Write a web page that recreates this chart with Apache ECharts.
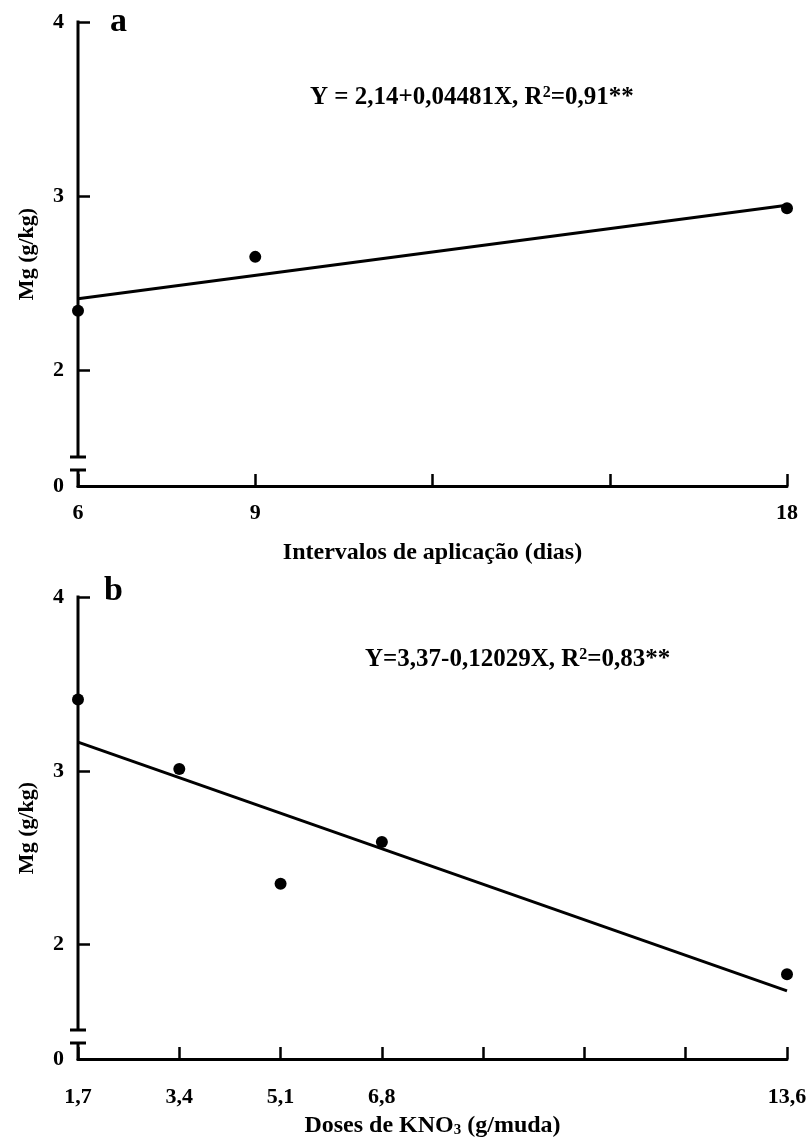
<!DOCTYPE html>
<html>
<head>
<meta charset="utf-8">
<script src="https://cdn.jsdelivr.net/npm/echarts@6/dist/echarts.min.js"></script>
<style>
  html, body { margin: 0; padding: 0; background: #fff; }
  #chart { width: 812px; height: 1143px; }
</style>
</head>
<body>
<div id="chart"></div>
<script>
// Panel a: Mg content vs. application interval
const intervalDays = [6, 9, 18];
const mgByInterval = [2.34, 2.65, 2.93];
const intervalTicks = [6, 9, 12, 15, 18];
const intervalLabels = [6, 9, 18];
const fitA = { a: 2.14, b: 0.04481 };

// Panel b: Mg content vs. KNO3 dose
const kno3Doses = [1.7, 3.4, 5.1, 6.8, 13.6];
const mgByDose = [3.41, 3.01, 2.35, 2.59, 1.83];
const doseTicks = [1.7, 3.4, 5.1, 6.8, 8.5, 10.2, 11.9, 13.6];
const doseLabels = [1.7, 3.4, 5.1, 6.8, 13.6];
const fitB = { a: 3.37, b: -0.12029 };

// Broken y axis: the bottom of each panel stands for 0
const mgTicks = [2, 3, 4];
const mgFloorA = 1.333;
const mgFloorB = 1.342;
const mgMax = 4;

const FONT = '"Liberation Serif", "Times New Roman", serif';
const INK = '#000';

function fitLine(fit, xs) {
  const lo = xs[0], hi = xs[xs.length - 1];
  return [[lo, fit.a + fit.b * lo], [hi, fit.a + fit.b * hi]];
}

function commaNum(v) {
  return Number.isInteger(v) ? String(v) : v.toFixed(1).replace('.', ',');
}

function makeXAxis(gridIndex, min, max, ticks, labels, name, margin, gap) {
  return {
    type: 'value', gridIndex, min, max,
    axisLine: { show: true, lineStyle: { color: INK, width: 3 } },
    axisTick: { show: true, inside: true, length: 12, customValues: ticks, lineStyle: { color: INK, width: 2.5 } },
    axisLabel: {
      customValues: labels, margin,
      formatter: v => commaNum(v),
      color: INK, fontFamily: FONT, fontWeight: 'bold', fontSize: 22
    },
    splitLine: { show: false },
    name, nameLocation: 'middle', nameGap: gap,
    nameTextStyle: {
      color: INK, fontFamily: FONT, fontWeight: 'bold', fontSize: 24,
      rich: {
        sub: { color: INK, fontFamily: FONT, fontWeight: 'bold', fontSize: 15, verticalAlign: 'bottom', padding: [9, 0, 0, 0] }
      }
    }
  };
}

function makeYAxis(gridIndex, floor) {
  return {
    type: 'value', gridIndex, min: floor, max: mgMax,
    axisLine: { show: false },
    axisTick: { show: true, inside: true, length: 12, customValues: mgTicks, lineStyle: { color: INK, width: 2.5 } },
    axisLabel: {
      customValues: [floor].concat(mgTicks), margin: 14,
      formatter: v => (v < mgTicks[0] - 0.1 ? '0' : String(v)),
      color: INK, fontFamily: FONT, fontWeight: 'bold', fontSize: 22
    },
    splitLine: { show: false },
    name: 'Mg (g/kg)', nameLocation: 'middle', nameRotate: 90, nameGap: 40,
    nameTextStyle: { color: INK, fontFamily: FONT, fontWeight: 'bold', fontSize: 22 }
  };
}

const chart = echarts.init(document.getElementById('chart'), null, { renderer: 'canvas' });

chart.setOption({
  backgroundColor: '#fff',
  animation: false,
  grid: [
    { left: 78, top: 22, width: 709, height: 464 },
    { left: 78, top: 597, width: 709, height: 462 }
  ],
  xAxis: [
    makeXAxis(0, intervalTicks[0], intervalTicks[intervalTicks.length - 1], intervalTicks, intervalLabels,
      'Intervalos de aplicação (dias)', 16, 55),
    makeXAxis(1, doseTicks[0], doseTicks[doseTicks.length - 1], doseTicks, doseLabels,
      'Doses de KNO{sub|3} (g/muda)', 27, 55)
  ],
  yAxis: [makeYAxis(0, mgFloorA), makeYAxis(1, mgFloorB)],
  series: [
    {
      type: 'line', xAxisIndex: 0, yAxisIndex: 0,
      data: fitLine(fitA, intervalTicks), showSymbol: false,
      lineStyle: { color: INK, width: 3 }, z: 2
    },
    {
      type: 'scatter', xAxisIndex: 0, yAxisIndex: 0,
      data: intervalDays.map((x, i) => [x, mgByInterval[i]]),
      symbol: 'circle', symbolSize: 12, itemStyle: { color: INK, opacity: 1 }, z: 3
    },
    {
      type: 'line', xAxisIndex: 1, yAxisIndex: 1,
      data: fitLine(fitB, doseTicks), showSymbol: false,
      lineStyle: { color: INK, width: 3 }, z: 2
    },
    {
      type: 'scatter', xAxisIndex: 1, yAxisIndex: 1,
      data: kno3Doses.map((x, i) => [x, mgByDose[i]]),
      symbol: 'circle', symbolSize: 12, itemStyle: { color: INK, opacity: 1 }, z: 3
    }
  ]
});

// Vertical axis line with a break just above the floor, built from the axis scale
function brokenAxis(gridIndex, xMin, floor) {
  const base = chart.convertToPixel({ gridIndex }, [xMin, floor]);
  const top = chart.convertToPixel({ gridIndex }, [xMin, mgMax]);
  const x = base[0];
  const lowStub = base[1] - 16;
  const highStub = base[1] - 29;
  const style = { stroke: INK, lineWidth: 3 };
  const seg = (x1, y1, x2, y2) => ({ type: 'line', shape: { x1, y1, x2, y2 }, style, z: 10 });
  return [
    seg(x, top[1] - 1.5, x, highStub),
    seg(x, lowStub, x, base[1] + 1.5),
    seg(x - 8, highStub, x + 8, highStub),
    seg(x - 8, lowStub, x + 8, lowStub)
  ];
}

const eqRich = {
  t: { fontFamily: FONT, fontWeight: 'bold', fontSize: 25, fill: INK },
  sup: { fontFamily: FONT, fontWeight: 'bold', fontSize: 16, fill: INK, verticalAlign: 'top', padding: [0, 0, 11, 0] }
};

function textEl(x, y, text, size, rich) {
  return {
    type: 'text', x, y, z: 10,
    style: {
      text, fill: INK, fontFamily: FONT, fontWeight: 'bold', fontSize: size,
      textVerticalAlign: 'middle', verticalAlign: 'middle', rich
    }
  };
}

chart.setOption({
  graphic: [].concat(
    brokenAxis(0, intervalTicks[0], mgFloorA),
    brokenAxis(1, doseTicks[0], mgFloorB),
    [
      textEl(110, 22, 'a', 34),
      textEl(104, 591, 'b', 34),
      textEl(310, 98, '{t|Y = 2,14+0,04481X, R}{sup|2}{t|=0,91**}', 25, eqRich),
      textEl(365, 660, '{t|Y=3,37-0,12029X, R}{sup|2}{t|=0,83**}', 25, eqRich)
    ]
  )
});
</script>
</body>
</html>
